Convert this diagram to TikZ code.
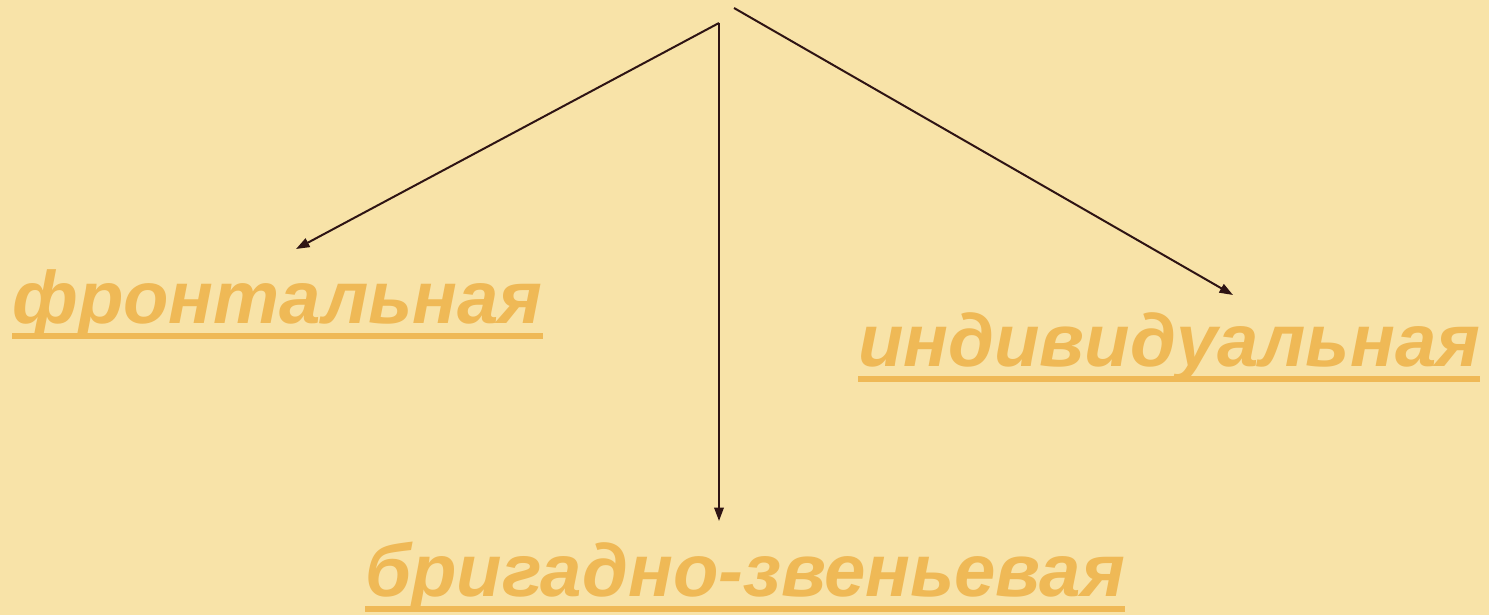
\documentclass[tikz,border=0pt]{standalone}
\usepackage{fontspec}
\setmainfont{Liberation Sans}
\usetikzlibrary{arrows.meta}
\definecolor{paper}{RGB}{248,227,168}
\definecolor{gold}{RGB}{239,185,86}
\definecolor{ink}{RGB}{46,20,20}
\begin{document}
\begin{tikzpicture}[x=0.02cm,y=-0.02cm,>={Triangle[length=0.27cm,width=0.19cm]}]
\tikzset{
  kind/.style={anchor=base west,inner sep=0pt,text=gold,
    font=\fontsize{42.3}{44}\selectfont\bfseries\itshape},
  uline/.style={gold,line width=0.12cm},
  link/.style={->,ink,line width=0.04cm}
}
\fill[paper] (0,0) rectangle (1489,615);
\useasboundingbox (0,0) rectangle (1489,615);
% forms of work
\node[kind] (front) at (12,323) {фронтальная};
\node[kind] (indiv) at (858,366) {индивидуальная};
\node[kind] (brig) at (365,596) {бригадно-звеньевая};
\foreach \n in {front,indiv,brig}
  \draw[uline] ([yshift=-0.26cm]\n.base west) -- ([yshift=-0.26cm]\n.base east);
% arrows from the top
\coordinate (top) at (719,23);
\coordinate (top2) at (734,8);
\coordinate (tipL) at (296,249);
\coordinate (tipM) at (719,521);
\coordinate (tipR) at (1233,295);
\draw[link] (top) -- (tipL);
\draw[link] (top) -- (tipM);
\draw[link] (top2) -- (tipR);
\end{tikzpicture}
\end{document}
